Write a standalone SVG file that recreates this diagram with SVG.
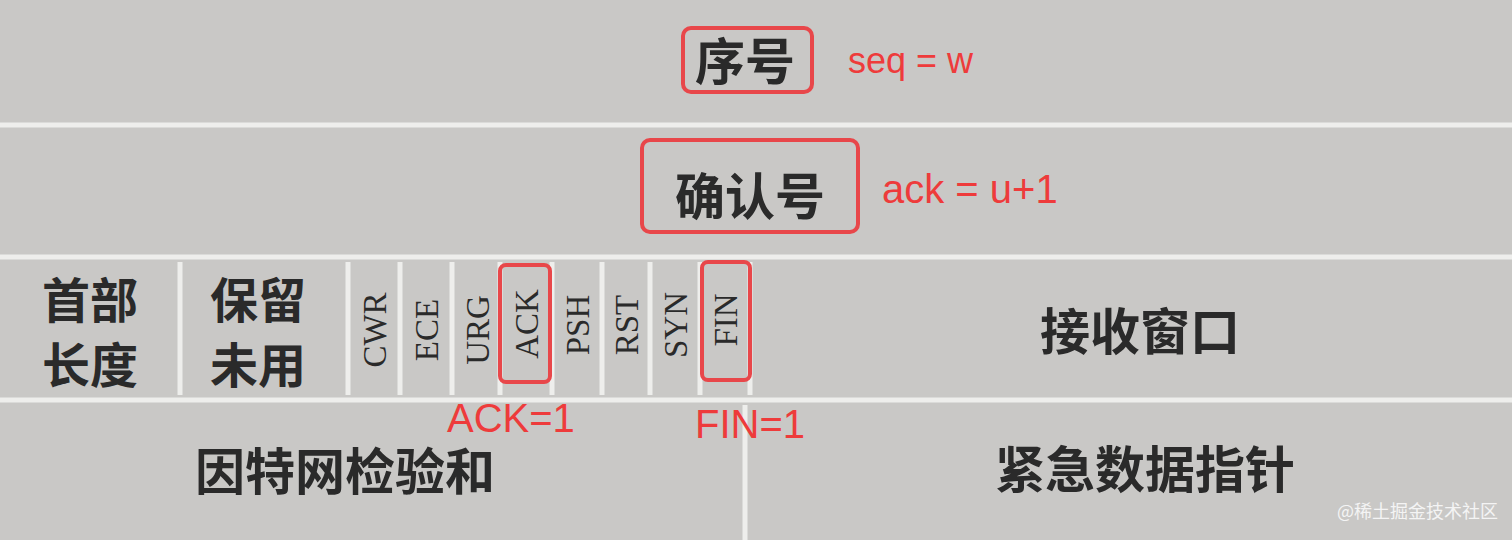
<svg xmlns="http://www.w3.org/2000/svg" width="1512" height="540" viewBox="0 0 1512 540">
<style>
.bg{fill:#c9c8c6}
.sep{stroke:#eeeeec;stroke-width:5;fill:none}
.cn{font-family:"Noto Sans CJK SC",serif;font-weight:bold;fill:#2a2a2a}
.fl{font-family:"Liberation Serif",serif;font-size:33px;fill:#2a2a2a}
.box{fill:none;stroke:#e8474a;stroke-width:4}
.rt{font-family:"Liberation Sans",sans-serif;fill:#ee3b3b}
</style>
<rect class="bg" x="0" y="0" width="1512" height="540"/>
<g id="connectors">
<path class="sep" d="M0 125H1512M0 257H1512M0 400H1512M180 262V395M348 262V395M400 262V395M452 262V395M500 262V395M552 262V395M602 262V395M650 262V395M700 262V395M750 262V395M745 405V540"/>
</g>
<g id="seq"><text class="cn" x="745" y="80" font-size="50" text-anchor="middle">序号</text>
<rect class="box" x="683" y="28" width="129" height="64" rx="8"/>
<text class="rt" x="848" y="73" font-size="36">seq = w</text></g>
<g id="ack"><text class="cn" x="750" y="215" font-size="50" text-anchor="middle">确认号</text>
<rect class="box" x="642" y="140" width="216" height="92" rx="8"/>
<text class="rt" x="882" y="203" font-size="40">ack = u+1</text></g>
<g id="hlen"><text class="cn" x="90" y="318" font-size="48" text-anchor="middle">首部</text><text class="cn" x="90" y="383" font-size="48" text-anchor="middle">长度</text></g>
<g id="rsv"><text class="cn" x="258" y="318" font-size="48" text-anchor="middle">保留</text><text class="cn" x="258" y="383" font-size="48" text-anchor="middle">未用</text></g>
<g id="flags">
<text class="fl" transform="translate(386 330) rotate(-90)" text-anchor="middle">CWR</text>
<text class="fl" transform="translate(438 330) rotate(-90)" text-anchor="middle">ECE</text>
<text class="fl" transform="translate(489 330) rotate(-90)" text-anchor="middle">URG</text>
<text class="fl" transform="translate(538 324) rotate(-90)" text-anchor="middle">ACK</text>
<text class="fl" transform="translate(589 325) rotate(-90)" text-anchor="middle">PSH</text>
<text class="fl" transform="translate(638 325) rotate(-90)" text-anchor="middle">RST</text>
<text class="fl" transform="translate(687 325) rotate(-90)" text-anchor="middle">SYN</text>
<text class="fl" transform="translate(737 320) rotate(-90)" text-anchor="middle">FIN</text>
<rect class="box" x="500" y="265" width="50" height="117" rx="6"/>
<rect class="box" x="702" y="262" width="48" height="118" rx="6"/>
<text class="rt" x="447" y="432" font-size="40">ACK=1</text>
<text class="rt" x="695" y="438" font-size="40">FIN=1</text>
</g>
<g id="win"><text class="cn" x="1140" y="350" font-size="50" text-anchor="middle">接收窗口</text></g>
<g id="cksum"><text class="cn" x="345" y="490" font-size="50" text-anchor="middle">因特网检验和</text></g>
<g id="urg"><text class="cn" x="1145" y="488" font-size="50" text-anchor="middle">紧急数据指针</text></g>
<text x="1498" y="518" font-size="18" text-anchor="end" fill="#f4f4f4" font-family="Noto Sans CJK SC,sans-serif">@稀土掘金技术社区</text>
</svg>
